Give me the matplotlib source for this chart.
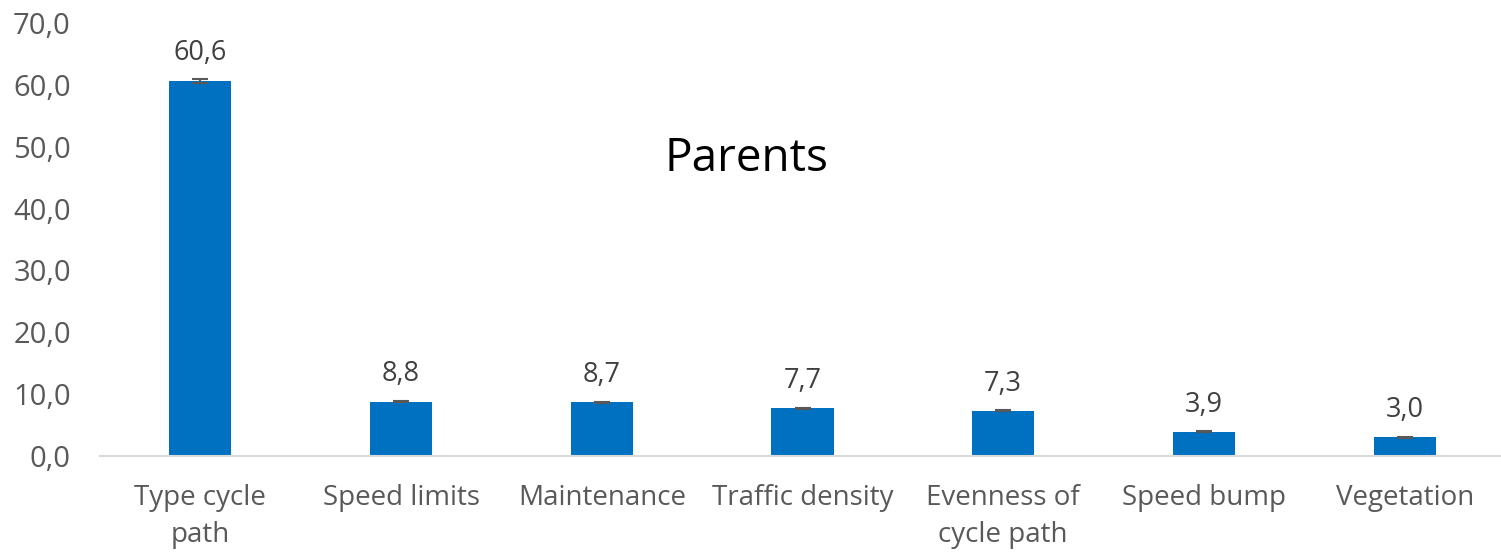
import matplotlib.pyplot as plt

categories = ['Type cycle\npath', 'Speed limits', 'Maintenance', 'Traffic density',
              'Evenness of\ncycle path', 'Speed bump', 'Vegetation']
values = [60.6, 8.8, 8.7, 7.7, 7.3, 3.9, 3.0]
errors = [0.3, 0.1, 0.1, 0.1, 0.1, 0.1, 0.1]
yticks = [0, 10, 20, 30, 40, 50, 60, 70]

plt.rcParams['font.family'] = ['Open Sans', 'DejaVu Sans']

fig = plt.figure(figsize=(15.01, 5.53), dpi=100)
ax = fig.add_axes([100 / 1501, 97 / 553, 1401 / 1501, 433 / 553])

x = list(range(len(categories)))
ax.bar(x, values, width=0.31, color='#0070C0', yerr=errors,
       error_kw=dict(ecolor='#595959', elinewidth=1.5, capsize=6, capthick=1.5))

for xi, v, e in zip(x, values, errors):
    ax.annotate(f'{v:.1f}'.replace('.', ','), (xi, v + e), textcoords='offset points',
                xytext=(0, 9), ha='center', va='bottom', fontsize=19.5, color='#404040')

ax.set_xlim(-0.5, 6.48)
ax.set_ylim(0, 70)
ax.set_yticks(yticks)
ax.set_yticklabels([f'{t:.1f}'.replace('.', ',') for t in yticks], fontsize=21, color='#595959')
ax.set_xticks(x)
ax.set_xticklabels(categories, fontsize=20, color='#595959', linespacing=1.45)
ax.tick_params(axis='x', length=0, pad=20)
ax.tick_params(axis='y', length=0, pad=21)
for s in ['top', 'right', 'left']:
    ax.spines[s].set_visible(False)
ax.spines['bottom'].set_color('#D9D9D9')
ax.spines['bottom'].set_linewidth(1.5)

ax.text(2.72, 48, 'Parents', fontsize=33, color='black', ha='center', va='center')

plt.savefig('out.png', dpi=100)
